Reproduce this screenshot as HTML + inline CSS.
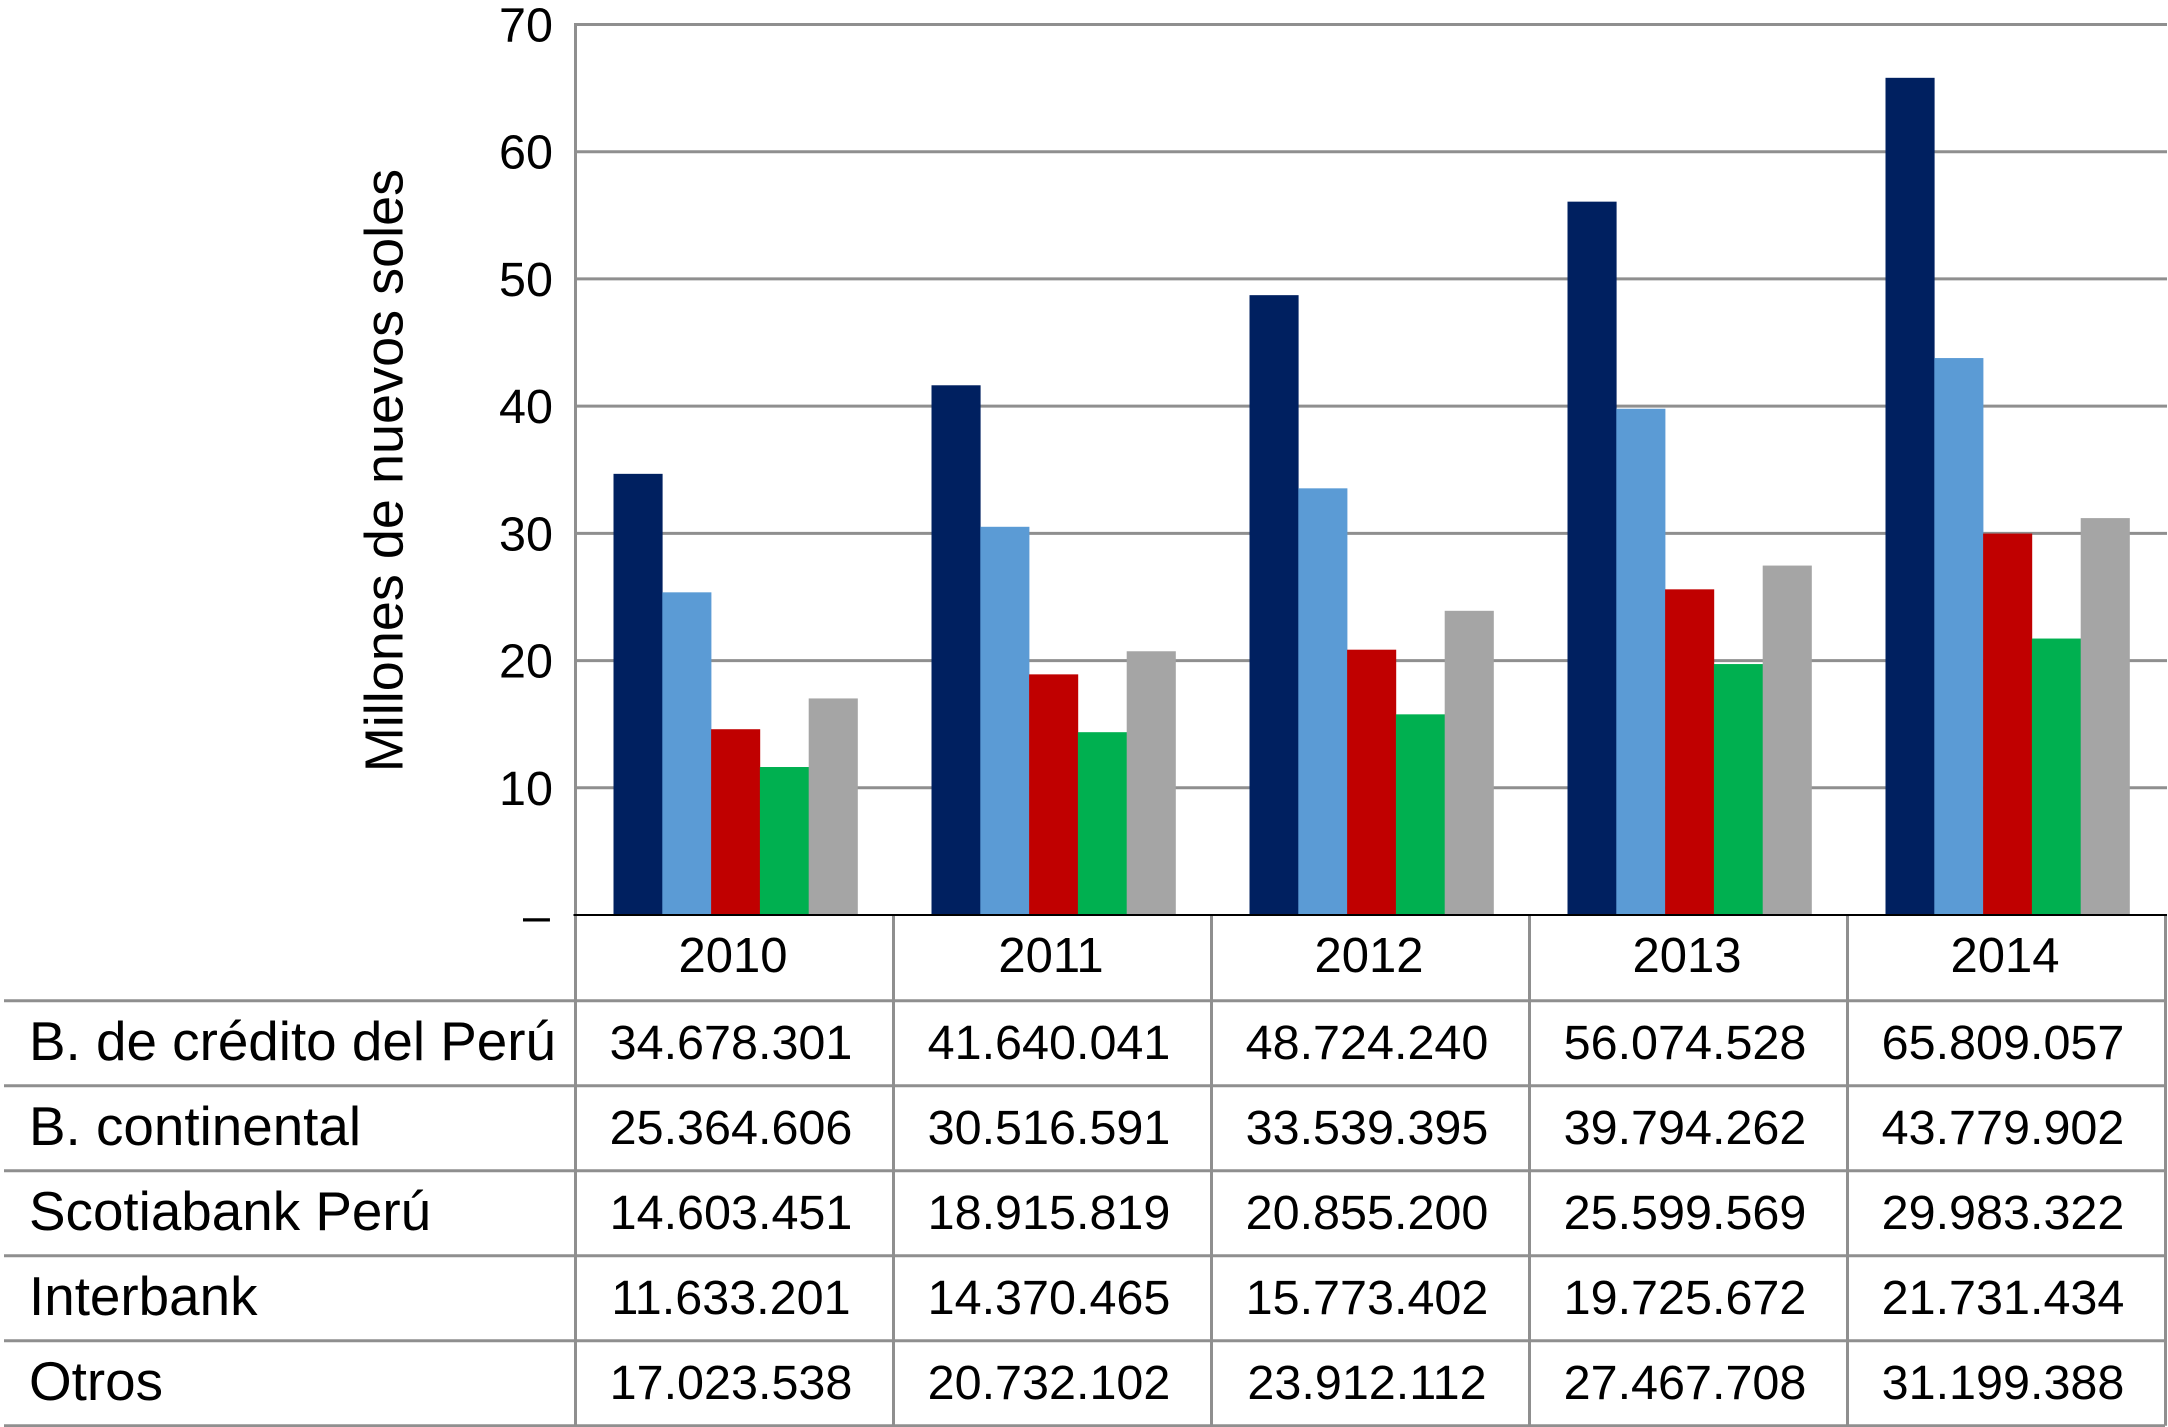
<!DOCTYPE html>
<html lang="es">
<head>
<meta charset="utf-8">
<title>Millones de nuevos soles</title>
<style>
html,body{margin:0;padding:0;background:#fff;width:2168px;height:1427px;overflow:hidden}
svg{display:block}
text{font-family:"Liberation Sans",Arial,sans-serif;fill:#000}
</style>
</head>
<body>
<svg id="chart" xmlns="http://www.w3.org/2000/svg" width="2168" height="1427" viewBox="0 0 2168 1427">
  <text transform="translate(402.5 470.5) rotate(-90)" text-anchor="middle" font-size="54">Millones de nuevos soles</text>
</svg>
<script>
const years = ['2010', '2011', '2012', '2013', '2014'];
const seriesNames = ['B. de crédito del Perú', 'B. continental', 'Scotiabank Perú', 'Interbank', 'Otros'];
const creditoValues = [34678301, 41640041, 48724240, 56074528, 65809057];
const continentalValues = [25364606, 30516591, 33539395, 39794262, 43779902];
const scotiabankValues = [14603451, 18915819, 20855200, 25599569, 29983322];
const interbankValues = [11633201, 14370465, 15773402, 19725672, 21731434];
const otrosValues = [17023538, 20732102, 23912112, 27467708, 31199388];
const yTicks = [0, 10, 20, 30, 40, 50, 60, 70];
const yTickLabels = ['–', '10', '20', '30', '40', '50', '60', '70'];

const allSeries = [creditoValues, continentalValues, scotiabankValues, interbankValues, otrosValues];
const colors = ['#002060', '#5B9BD5', '#C00000', '#00B050', '#A5A5A5'];
const GRID = '#8f8f8f';
const RULE = 3;
const svg = document.getElementById('chart');
const NS = 'http://www.w3.org/2000/svg';

const plotLeft = 575.5, plotRight = 2167, tableRight = 2165, tableLeft = 4;
const y0 = 915, yTop = 24.5, yMax = 70;
const bandW = 318, barW = 48.8, barOffset = 38;
const rowTop = 1000.7, rowH = 85;

function yScale(millions) { return y0 - (millions / yMax) * (y0 - yTop); }
function bandX(i) { return plotLeft + i * bandW; }
function make(tag, attrs, text) {
  const el = document.createElementNS(NS, tag);
  for (const k in attrs) el.setAttribute(k, attrs[k]);
  if (text !== undefined) el.textContent = text;
  svg.appendChild(el);
  return el;
}
function formatValue(v) { return String(v).replace(/\B(?=(\d{3})+$)/g, '.'); }

// gridlines and y tick labels
yTicks.forEach(function (t, i) {
  const y = yScale(t);
  if (t !== 0) {
    const g = make('line', { x1: plotLeft, x2: plotRight, y1: y, y2: y, stroke: GRID, 'stroke-width': RULE });
    
    
  }
  const lab = make('text', { x: t === 0 ? 550 : 553, y: y + 17, 'text-anchor': 'end', 'font-size': 48.5 }, yTickLabels[i]);
  
  
});

// bars
allSeries.forEach(function (vals, s) {
  vals.forEach(function (v, i) {
    const top = yScale(v / 1e6);
    const r = make('rect', { x: bandX(i) + barOffset + s * barW, y: top, width: barW + 0.3, height: y0 - top, fill: colors[s] });
    
    
  });
});

// table rules
const leftAxis = make('line', { x1: plotLeft, x2: plotLeft, y1: yTop - 1.5, y2: rowTop + rowH * seriesNames.length, stroke: GRID, 'stroke-width': RULE });



years.forEach(function (yr, i) {
  const v = make('line', { x1: bandX(i + 1), x2: bandX(i + 1), y1: y0, y2: rowTop + rowH * seriesNames.length, stroke: GRID, 'stroke-width': RULE });
  
  
});

for (let r = 0; r <= seriesNames.length; r++) {
  const y = rowTop + rowH * r;
  const h = make('line', { x1: tableLeft, x2: tableRight, y1: y, y2: y, stroke: GRID, 'stroke-width': RULE });
  
  
}

const axis = make('line', { x1: plotLeft - 2, x2: plotRight, y1: y0, y2: y0, stroke: '#000', 'stroke-width': 2 });



// year headers
years.forEach(function (yr, i) {
  const t = make('text', { x: bandX(i) + bandW / 2 - 1.5, y: 972, 'text-anchor': 'middle', 'font-size': 49 }, yr);
  
  
});

// row labels and cells
seriesNames.forEach(function (name, r) {
  const base = rowTop + rowH * r + 59.5;
  const l = make('text', { x: 29, y: base, 'font-size': 54.8 }, name);
  
  
  allSeries[r].forEach(function (v, i) {
    const c = make('text', { x: bandX(i) + bandW / 2 - 3.5, y: base - 1, 'text-anchor': 'middle', 'font-size': 48.5 }, formatValue(v));
    
    
  });
});
</script>
</body>
</html>
